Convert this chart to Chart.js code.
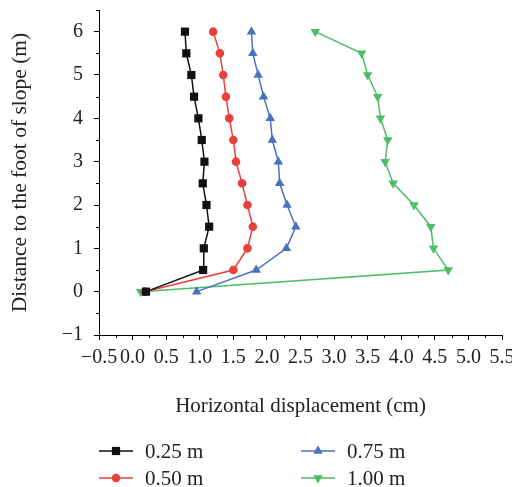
<!DOCTYPE html>
<html>
<head>
<meta charset="utf-8">
<script src="https://cdn.jsdelivr.net/npm/chart.js@4.4.0/dist/chart.umd.min.js"></script>
<style>
  html, body { margin: 0; padding: 0; background: #fff; }
</style>
</head>
<body>
<canvas id="myChart" width="512" height="487"></canvas>
<script>
const depth = [0, 0.5, 1, 1.5, 2, 2.5, 3, 3.5, 4, 4.5, 5, 5.5, 6]
const disp025 = [0.2, 1.05, 1.06, 1.14, 1.1, 1.045, 1.07, 1.03, 0.98, 0.915, 0.875, 0.8, 0.78]
const disp050 = [0.18, 1.5, 1.71, 1.79, 1.71, 1.63, 1.54, 1.5, 1.44, 1.39, 1.35, 1.3, 1.2]
const disp075 = [0.955, 1.84, 2.29, 2.43, 2.3, 2.19, 2.17, 2.08, 2.05, 1.95, 1.87, 1.79, 1.77]
const disp100 = [0.12, 4.7, 4.48, 4.44, 4.19, 3.88, 3.76, 3.8, 3.69, 3.65, 3.5, 3.41, 2.72]
const seriesNames = ['0.25 m', '0.50 m', '0.75 m', '1.00 m']
const xTicks = { min: -0.5, max: 5.5, step: 0.5 }
const yTicks = { min: -1, max: 6.5, step: 1 }

const ctx = document.getElementById('myChart')
const FONT = 'Liberation Serif'

const pts = (xs) => xs.map((x, i) => ({ x: x, y: depth[i] }))
const minus = (s) => s.replace('-', '\u2212')

const series = [
  { data: disp025, color: '#111111', style: 'rect', radius: 5.8, rot: 0 },
  { data: disp050, color: '#e8413c', style: 'circle', radius: 4.3, rot: 0 },
  { data: disp075, color: '#4a72c0', style: 'triangle', radius: 5.5, rot: 0 },
  { data: disp100, color: '#4dbd66', style: 'triangle', radius: 5.5, rot: 180 },
]

// minor ticks between the labelled ones
const minorTicks = {
  id: 'minorTicks',
  afterDraw(chart) {
    const c = chart.ctx
    const xs = chart.scales.x
    const ys = chart.scales.y
    c.save()
    c.strokeStyle = '#000'
    c.lineWidth = 1
    c.beginPath()
    for (let v = xTicks.min + xTicks.step / 2; v < xTicks.max; v += xTicks.step) {
      const px = Math.round(xs.getPixelForValue(v)) + 0.5
      c.moveTo(px, xs.top)
      c.lineTo(px, xs.top + 3)
    }
    for (let v = yTicks.min + yTicks.step / 2; v <= yTicks.max; v += yTicks.step) {
      const py = Math.round(ys.getPixelForValue(v)) + 0.5
      c.moveTo(ys.right, py)
      c.lineTo(ys.right - 3, py)
    }
    c.stroke()
    c.restore()
  },
}

// two column legend under the axis title
const legend2col = {
  id: 'legend2col',
  afterDraw(chart) {
    const c = chart.ctx
    const cols = [99, 301]
    const rows = [451, 478]
    c.save()
    chart.data.datasets.forEach((ds, i) => {
      const x0 = cols[Math.floor(i / 2)]
      const y0 = rows[i % 2]
      c.strokeStyle = ds.borderColor
      c.lineWidth = 1.5
      c.beginPath()
      c.moveTo(x0, y0)
      c.lineTo(x0 + 34, y0)
      c.stroke()
      c.fillStyle = ds.pointBackgroundColor
      Chart.helpers.drawPoint(c, {
        pointStyle: ds.pointStyle,
        radius: ds.pointRadius,
        rotation: ds.pointRotation,
        borderWidth: 0,
      }, x0 + 17, y0)
      c.fillStyle = '#222'
      c.font = '21px "' + FONT + '"'
      c.textBaseline = 'middle'
      c.textAlign = 'left'
      c.fillText(ds.label, x0 + 46, y0 + 1)
    })
    c.restore()
  },
}

new Chart(ctx, {
  type: 'scatter',
  data: {
    datasets: series.map((s, i) => ({
      label: seriesNames[i],
      data: pts(s.data),
      showLine: true,
      borderColor: s.color,
      backgroundColor: s.color,
      pointBackgroundColor: s.color,
      pointBorderWidth: 0,
      pointStyle: s.style,
      pointRadius: s.radius,
      pointRotation: s.rot,
      borderWidth: 1.5,
    })),
  },
  options: {
    responsive: false,
    animation: false,
    devicePixelRatio: 1,
    layout: { padding: { top: 10, right: 10, left: 0, bottom: 67 } },
    plugins: {
      legend: { display: false },
      tooltip: { enabled: false },
    },
    scales: {
      x: {
        type: 'linear',
        min: xTicks.min,
        max: xTicks.max,
        border: { display: true, color: '#000', width: 1 },
        grid: { drawOnChartArea: false, tickLength: 5, color: '#000' },
        ticks: {
          stepSize: xTicks.step,
          autoSkip: false,
          maxRotation: 0,
          minRotation: 0,
          includeBounds: false,
          padding: 6,
          color: '#222',
          font: { family: FONT, size: 20 },
          callback: (v) => minus(Number(v).toFixed(1)),
        },
        title: {
          display: true,
          text: 'Horizontal displacement (cm)',
          color: '#222',
          font: { family: FONT, size: 21 },
          padding: { top: 0, bottom: 1 },
        },
        afterFit(scale) {
          scale.height = 85
          scale.paddingLeft = 0
          scale.paddingRight = 0
        },
      },
      y: {
        type: 'linear',
        min: yTicks.min,
        max: yTicks.max,
        border: { display: true, color: '#000', width: 1 },
        grid: { drawOnChartArea: false, tickLength: 5, color: '#000' },
        ticks: {
          stepSize: yTicks.step,
          includeBounds: false,
          padding: 11,
          color: '#222',
          font: { family: FONT, size: 20 },
          callback: (v) => minus(String(v)),
        },
        title: {
          display: true,
          text: 'Distance to the foot of slope (m)',
          color: '#222',
          font: { family: FONT, size: 21.5 },
          padding: { top: 7, bottom: 0 },
        },
        afterFit(scale) {
          scale.width = 99
          scale.paddingTop = 0
          scale.paddingBottom = 0
        },
      },
    },
  },
  plugins: [minorTicks, legend2col],
})
</script>
</body>
</html>
